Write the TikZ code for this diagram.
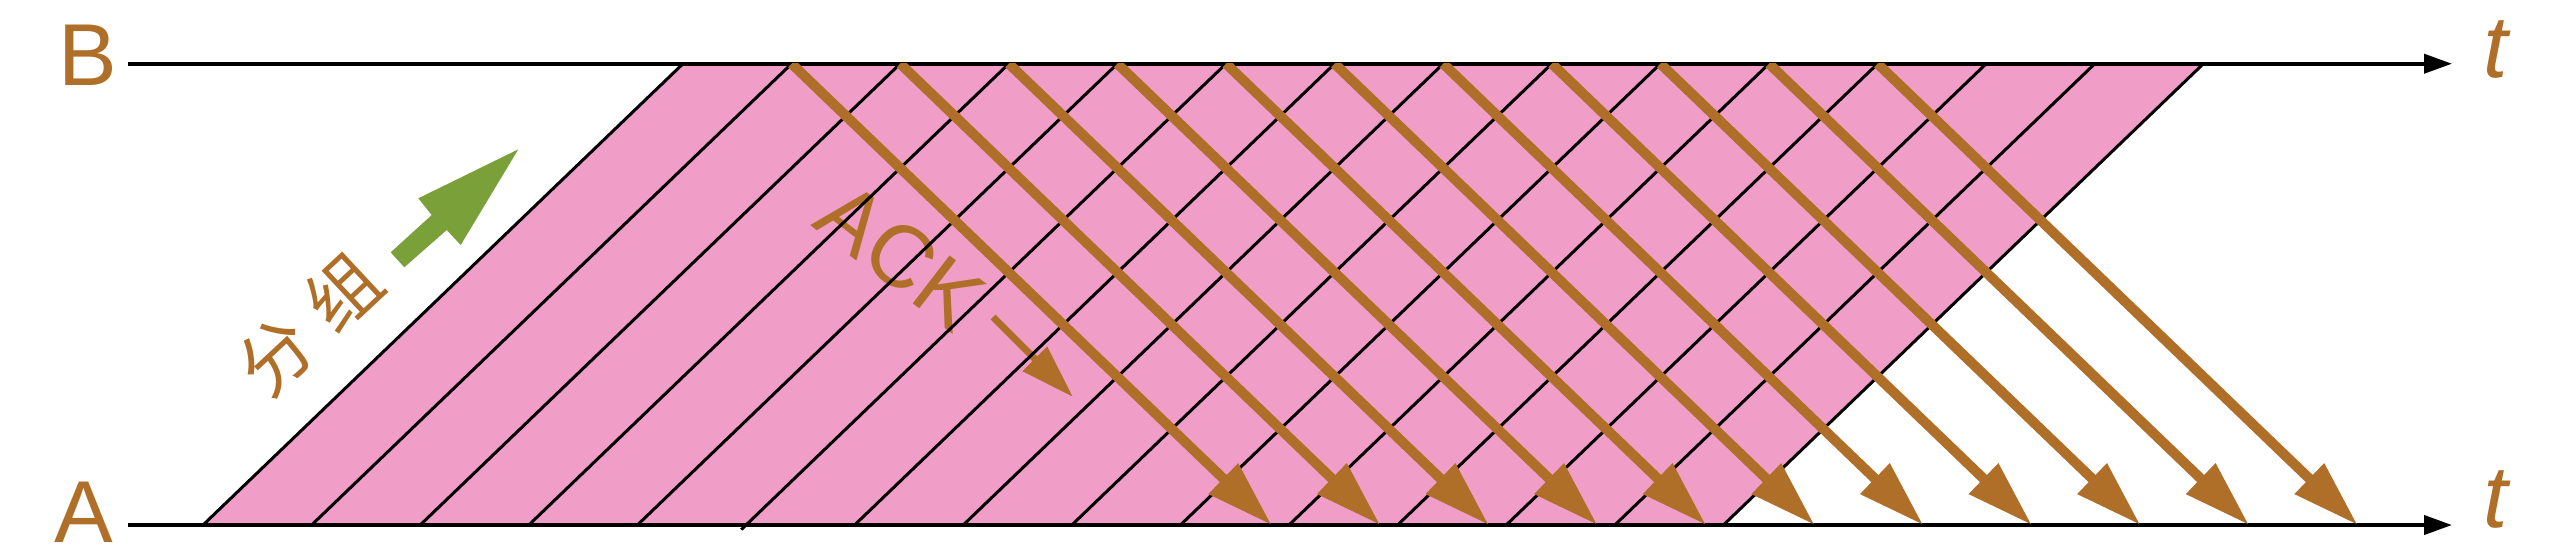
\documentclass[tikz,border=0pt]{standalone}
\usepackage{fontspec}
\setmainfont{Liberation Sans}
\newfontfamily\cjkfont{Noto Sans CJK SC}
\usetikzlibrary{arrows.meta,calc}
\definecolor{ackbrown}{RGB}{176,111,41}
\definecolor{winpink}{RGB}{240,158,200}
\definecolor{pktgreen}{RGB}{122,160,58}
\begin{document}
\begin{tikzpicture}[x=0.01cm,y=-0.01cm,
  axis/.style={line width=0.04cm, -{Triangle[length=0.28cm,width=0.19cm]}},
  pktline/.style={line width=0.03cm},
  ackarrow/.style={color=ackbrown, line width=0.10cm, -{Triangle[length=0.67cm,width=0.40cm]}},
  lbl/.style={text=ackbrown, font=\fontsize{25}{30}\selectfont, inner sep=0pt},
  tlbl/.style={text=ackbrown, font=\fontsize{25}{30}\selectfont\itshape, inner sep=0pt},
]
\useasboundingbox (0,0) rectangle (2552,556);

% axes end points
\coordinate (Bs) at (128,63.7);
\coordinate (Be) at (2452,63.7);
\coordinate (As) at (128,525);
\coordinate (Ae) at (2452,525);

% packet line end points
\foreach \i in {0,...,14} {
  \coordinate (pa\i) at ({203+108.6*\i},525);
  \coordinate (pb\i) at ({683+108.6*\i},63.7);
}
\foreach \i in {1,...,11} {
  \coordinate (ak\i) at ({1163+108.6*\i},525);
}

% sending window
\fill[winpink] (pa0) -- (pb0) -- (pb14) -- (pa14) -- cycle;

% ACK label
\node[lbl, rotate=-37.5] (acklbl) at (901,256) {ACK};
\coordinate (ackS) at (993,317);
\coordinate (ackT) at (1073,397);
\draw[ackbrown, line width=0.07cm, -{Triangle[length=0.54cm,width=0.33cm]}] (ackS) -- (ackT);

% packet lines
\foreach \i in {0,...,14} {
  \draw[pktline] (pa\i) -- (pb\i);
}
\draw[pktline] (pa5) -- ($(pa5)!-0.01!(pb5)$);

% time axes
\draw[axis] (Bs) -- (Be);
\draw[axis] (As) -- (Ae);

% ACK arrows
\begin{scope}
\clip (0,63.7) rectangle (2552,556);
\foreach \i in {1,...,11} {
  \draw[ackarrow] (pb\i) -- (ak\i);
}
\end{scope}

% green packet arrow
\fill[pktgreen] (518.3,149.3) -- (418.3,198.3) -- (431.7,215) -- (390.7,252.3)
  -- (404.3,267.3) -- (446.7,230) -- (460.7,245) -- cycle;

% labels
\node[text=ackbrown, font=\cjkfont\fontsize{20.5}{24}\selectfont, rotate=43, inner sep=0pt] (pktlbl) at (309.5,324) {分\hspace{6pt}组};
\node[lbl] (labB) at (88.3,55.3) {B};
\node[lbl] (labA) at (84,512.5) {A};
\node[tlbl] (tB) at (2495.5,49) {t};
\node[tlbl] (tA) at (2495.5,499) {t};
\end{tikzpicture}
\end{document}
